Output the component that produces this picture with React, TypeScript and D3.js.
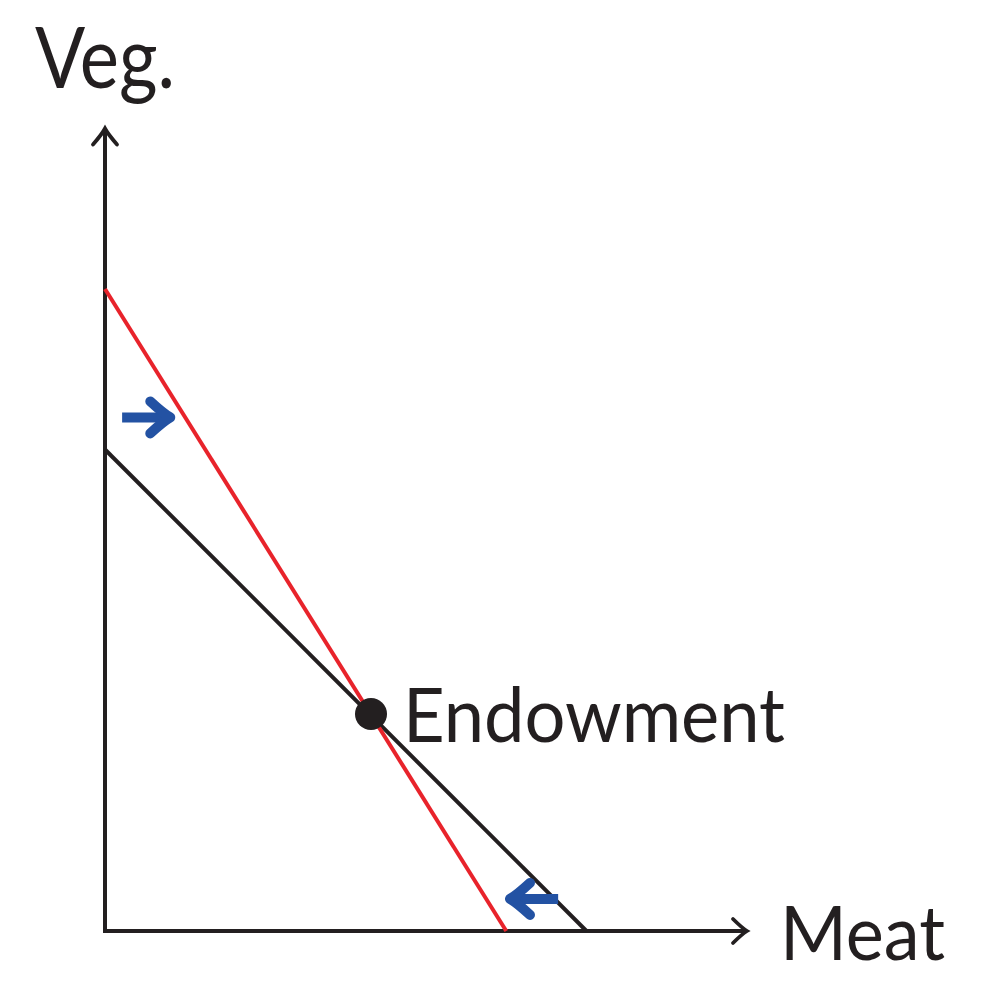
import * as d3 from "d3";

// budget lines (data units): [x, y] endpoints
const oldBudget: [number, number][] = [[0, 9], [9, 0]];
const newBudget: [number, number][] = [[0, 12], [7.5, 0]];
const endowment: [number, number] = [5, 4];
// blue shift arrows: [from, to]
const shiftArrows: [number, number][][] = [
  [[0.32, 9.6], [1.22, 9.6]],
  [[8.47, 0.6], [7.57, 0.6]],
];
const xLabel = "Meat";
const yLabel = "Veg.";
const pointLabel = "Endowment";

const W = 994;
const H = 1002;
const x = d3.scaleLinear().domain([0, 12]).range([105, 747]);
const y = d3.scaleLinear().domain([0, 15]).range([931, 128.5]);

const font = "Lato, 'Open Sans', sans-serif";
const ink = "#231f20";
const blue = "#2352a3";

function arrowHead(tx: number, ty: number, dir: number, len: number, spread: number) {
  // curved barbs; dir = angle in radians of travel
  const c = Math.cos(dir), s = Math.sin(dir);
  const pt = (a: number, b: number) => [tx + a * c - b * s, ty + a * s + b * c];
  const [b1x, b1y] = pt(-len, -spread);
  const [b2x, b2y] = pt(-len, spread);
  const [m1x, m1y] = pt(-len * 0.35, -spread * 0.25);
  const [m2x, m2y] = pt(-len * 0.35, spread * 0.25);
  return `M${b1x},${b1y} Q${m1x},${m1y} ${tx},${ty} Q${m2x},${m2y} ${b2x},${b2y}`;
}

export default function App() {
  const line = d3.line<[number, number]>().x(d => x(d[0])).y(d => y(d[1]));
  const x0 = x(0), y0 = y(0);
  const xEnd = x(12), yEnd = y(15);
  return (
    <svg width={W} height={H} style={{ position: "absolute", left: 0, top: 0 }}>
      {/* axes */}
      <path d={`M${x0},${yEnd + 2} V${y0} H${xEnd - 2}`} fill="none" stroke={ink} strokeWidth={4} />
      <path d={arrowHead(x0, yEnd, -Math.PI / 2, 16, 12)} fill="none" stroke={ink} strokeWidth={3.8} strokeLinecap="round" />
      <path d={arrowHead(xEnd, y0, 0, 14, 12)} fill="none" stroke={ink} strokeWidth={3.8} strokeLinecap="round" />

      {/* budget lines */}
      <path d={line(oldBudget) ?? ""} fill="none" stroke={ink} strokeWidth={4} />
      <path d={line(newBudget) ?? ""} fill="none" stroke="#e8232b" strokeWidth={4} />

      {/* shift arrows */}
      {shiftArrows.map((a, i) => {
        const [sx, sy] = [x(a[0][0]), y(a[0][1])];
        const [ex, ey] = [x(a[1][0]), y(a[1][1])];
        const dir = Math.atan2(ey - sy, ex - sx);
        const backX = ex - Math.cos(dir) * 6;
        return (
          <g key={i}>
            <line x1={sx} y1={sy} x2={backX} y2={ey} stroke={blue} strokeWidth={10} />
            <path d={arrowHead(ex, ey, dir, 20, 16)} fill="none" stroke={blue} strokeWidth={10} strokeLinecap="round" strokeLinejoin="round" />
          </g>
        );
      })}

      {/* endowment */}
      <circle cx={x(endowment[0]) - 1.5} cy={y(endowment[1]) - 3} r={16} fill={ink} />
      <text x={403} y={742} fontFamily={font} fontSize={76} fill={ink}
        textLength={382} lengthAdjust="spacingAndGlyphs">{pointLabel}</text>

      {/* axis labels */}
      <text x={35} y={88} fontFamily={font} fontSize={86} fill={ink}
        textLength={140} lengthAdjust="spacingAndGlyphs">{yLabel}</text>
      <text x={780} y={960} fontFamily={font} fontSize={76} fill={ink}
        textLength={165} lengthAdjust="spacingAndGlyphs">{xLabel}</text>
    </svg>
  );
}
